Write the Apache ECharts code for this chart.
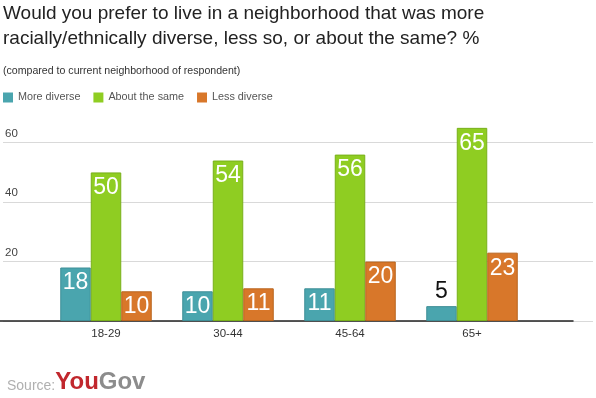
<!DOCTYPE html>
<html>
<head>
<meta charset="utf-8">
<script src="https://cdn.jsdelivr.net/npm/echarts@6/dist/echarts.min.js"></script>
<style>
  html, body { margin: 0; padding: 0; background: #fff; }
  #chart { width: 596px; height: 398px; }
</style>
</head>
<body>
<div id="chart"></div>
<script>
// data
const ageGroups = ['18-29', '30-44', '45-64', '65+']
const moreDiverse = [18, 10, 11, 5]
const aboutSame = [50, 54, 56, 65]
const lessDiverse = [10, 11, 20, 23]
const yTicks = [0, 20, 40, 60]

const colors = {
  teal: '#4aa5ae',
  green: '#8fcd22',
  orange: '#d8772a',
  grid: '#d9d9d9',
  text: '#444'
}

const font = 'Liberation Sans, Arial, sans-serif'

// small bars can't hold their label, so it goes on top in black
function withLabels(values) {
  return values.map(v => v < 8
    ? { value: v, label: { position: 'top', color: '#111', distance: 3 } }
    : v)
}

function barSeries(name, values, color, border) {
  return {
    name: name,
    type: 'bar',
    xAxisIndex: 1,
    yAxisIndex: 1,
    data: withLabels(values),
    barGap: 0,
    barCategoryGap: '25%',
    itemStyle: { color: color, borderColor: border, borderWidth: 1 },
    label: {
      show: true,
      position: 'insideTop',
      distance: 4,
      color: '#fff',
      fontSize: 23,
      fontFamily: font
    }
  }
}

const chart = echarts.init(document.getElementById('chart'))
chart.setOption({
  animation: false,
  textStyle: { fontFamily: font },
  title: [
    {
      text: 'Would you prefer to live in a neighborhood that was more\nracially/ethnically diverse, less so, or about the same? %',
      left: 3,
      top: 1,
      padding: 0,
      textStyle: { fontSize: 19, fontWeight: 'normal', color: '#222', lineHeight: 25, fontFamily: font }
    },
    {
      text: '(compared to current neighborhood of respondent)',
      left: 3,
      top: 66,
      padding: 0,
      textStyle: { fontSize: 10.6, fontWeight: 'normal', color: '#333', fontFamily: font }
    }
  ],
  legend: {
    left: -2,
    top: 87,
    icon: 'rect',
    itemWidth: 10,
    itemHeight: 10,
    itemGap: 13,
    itemStyle: { borderWidth: 0 },
    textStyle: { fontSize: 10.8, color: '#555', fontFamily: font },
    data: ['More diverse', 'About the same', 'Less diverse']
  },
  grid: [
    { left: 3, right: 3, top: 113, bottom: 77 },   // gridlines
    { left: 45, right: 63, top: 113, bottom: 77 }, // bars
    { left: 0, right: 23, top: 113, bottom: 77 }   // baseline
  ],
  xAxis: [
    { gridIndex: 0, type: 'category', data: ageGroups, show: false },
    {
      gridIndex: 1,
      type: 'category',
      data: ageGroups,
      axisLine: { show: false },
      axisTick: { show: false },
      axisLabel: { color: '#333', fontSize: 11.5, margin: 7 }
    },
    {
      gridIndex: 2,
      type: 'category',
      data: ageGroups,
      axisLine: { show: true, lineStyle: { color: '#222', width: 1.5 } },
      axisTick: { show: false },
      axisLabel: { show: false }
    }
  ],
  yAxis: [
    {
      gridIndex: 0,
      type: 'value',
      min: 0,
      max: 70,
      interval: 20,
      axisLine: { show: false },
      axisTick: { show: false },
      axisLabel: {
        inside: true,
        margin: 2,
        verticalAlign: 'bottom',
        padding: [0, 0, 3, 0],
        color: colors.text,
        fontSize: 11.5,
        showMinLabel: false,
        showMaxLabel: false,
        formatter: v => yTicks.includes(v) ? String(v) : ''
      },
      splitLine: { show: true, showMaxLine: false, lineStyle: { color: colors.grid } }
    },
    { gridIndex: 1, type: 'value', min: 0, max: 70, show: false },
    { gridIndex: 2, type: 'value', min: 0, max: 70, show: false }
  ],
  series: [
    barSeries('More diverse', moreDiverse, colors.teal, '#3f8f97'),
    barSeries('About the same', aboutSame, colors.green, '#78b01a'),
    barSeries('Less diverse', lessDiverse, colors.orange, '#b9651f')
  ],
  graphic: [
    {
      type: 'text',
      left: 7,
      top: 370,
      style: {
        text: '{s|Source:}{y|You}{g|Gov}',
        rich: {
          s: { fontSize: 14, fill: '#b0b0b0', fontFamily: font, verticalAlign: 'bottom', padding: [0, 0, 1, 0] },
          y: { fontSize: 24, fontWeight: 'bold', fill: '#c1272d', fontFamily: font, verticalAlign: 'bottom' },
          g: { fontSize: 24, fontWeight: 'bold', fill: '#8c8c8c', fontFamily: font, verticalAlign: 'bottom' }
        }
      }
    }
  ]
})
</script>
</body>
</html>
